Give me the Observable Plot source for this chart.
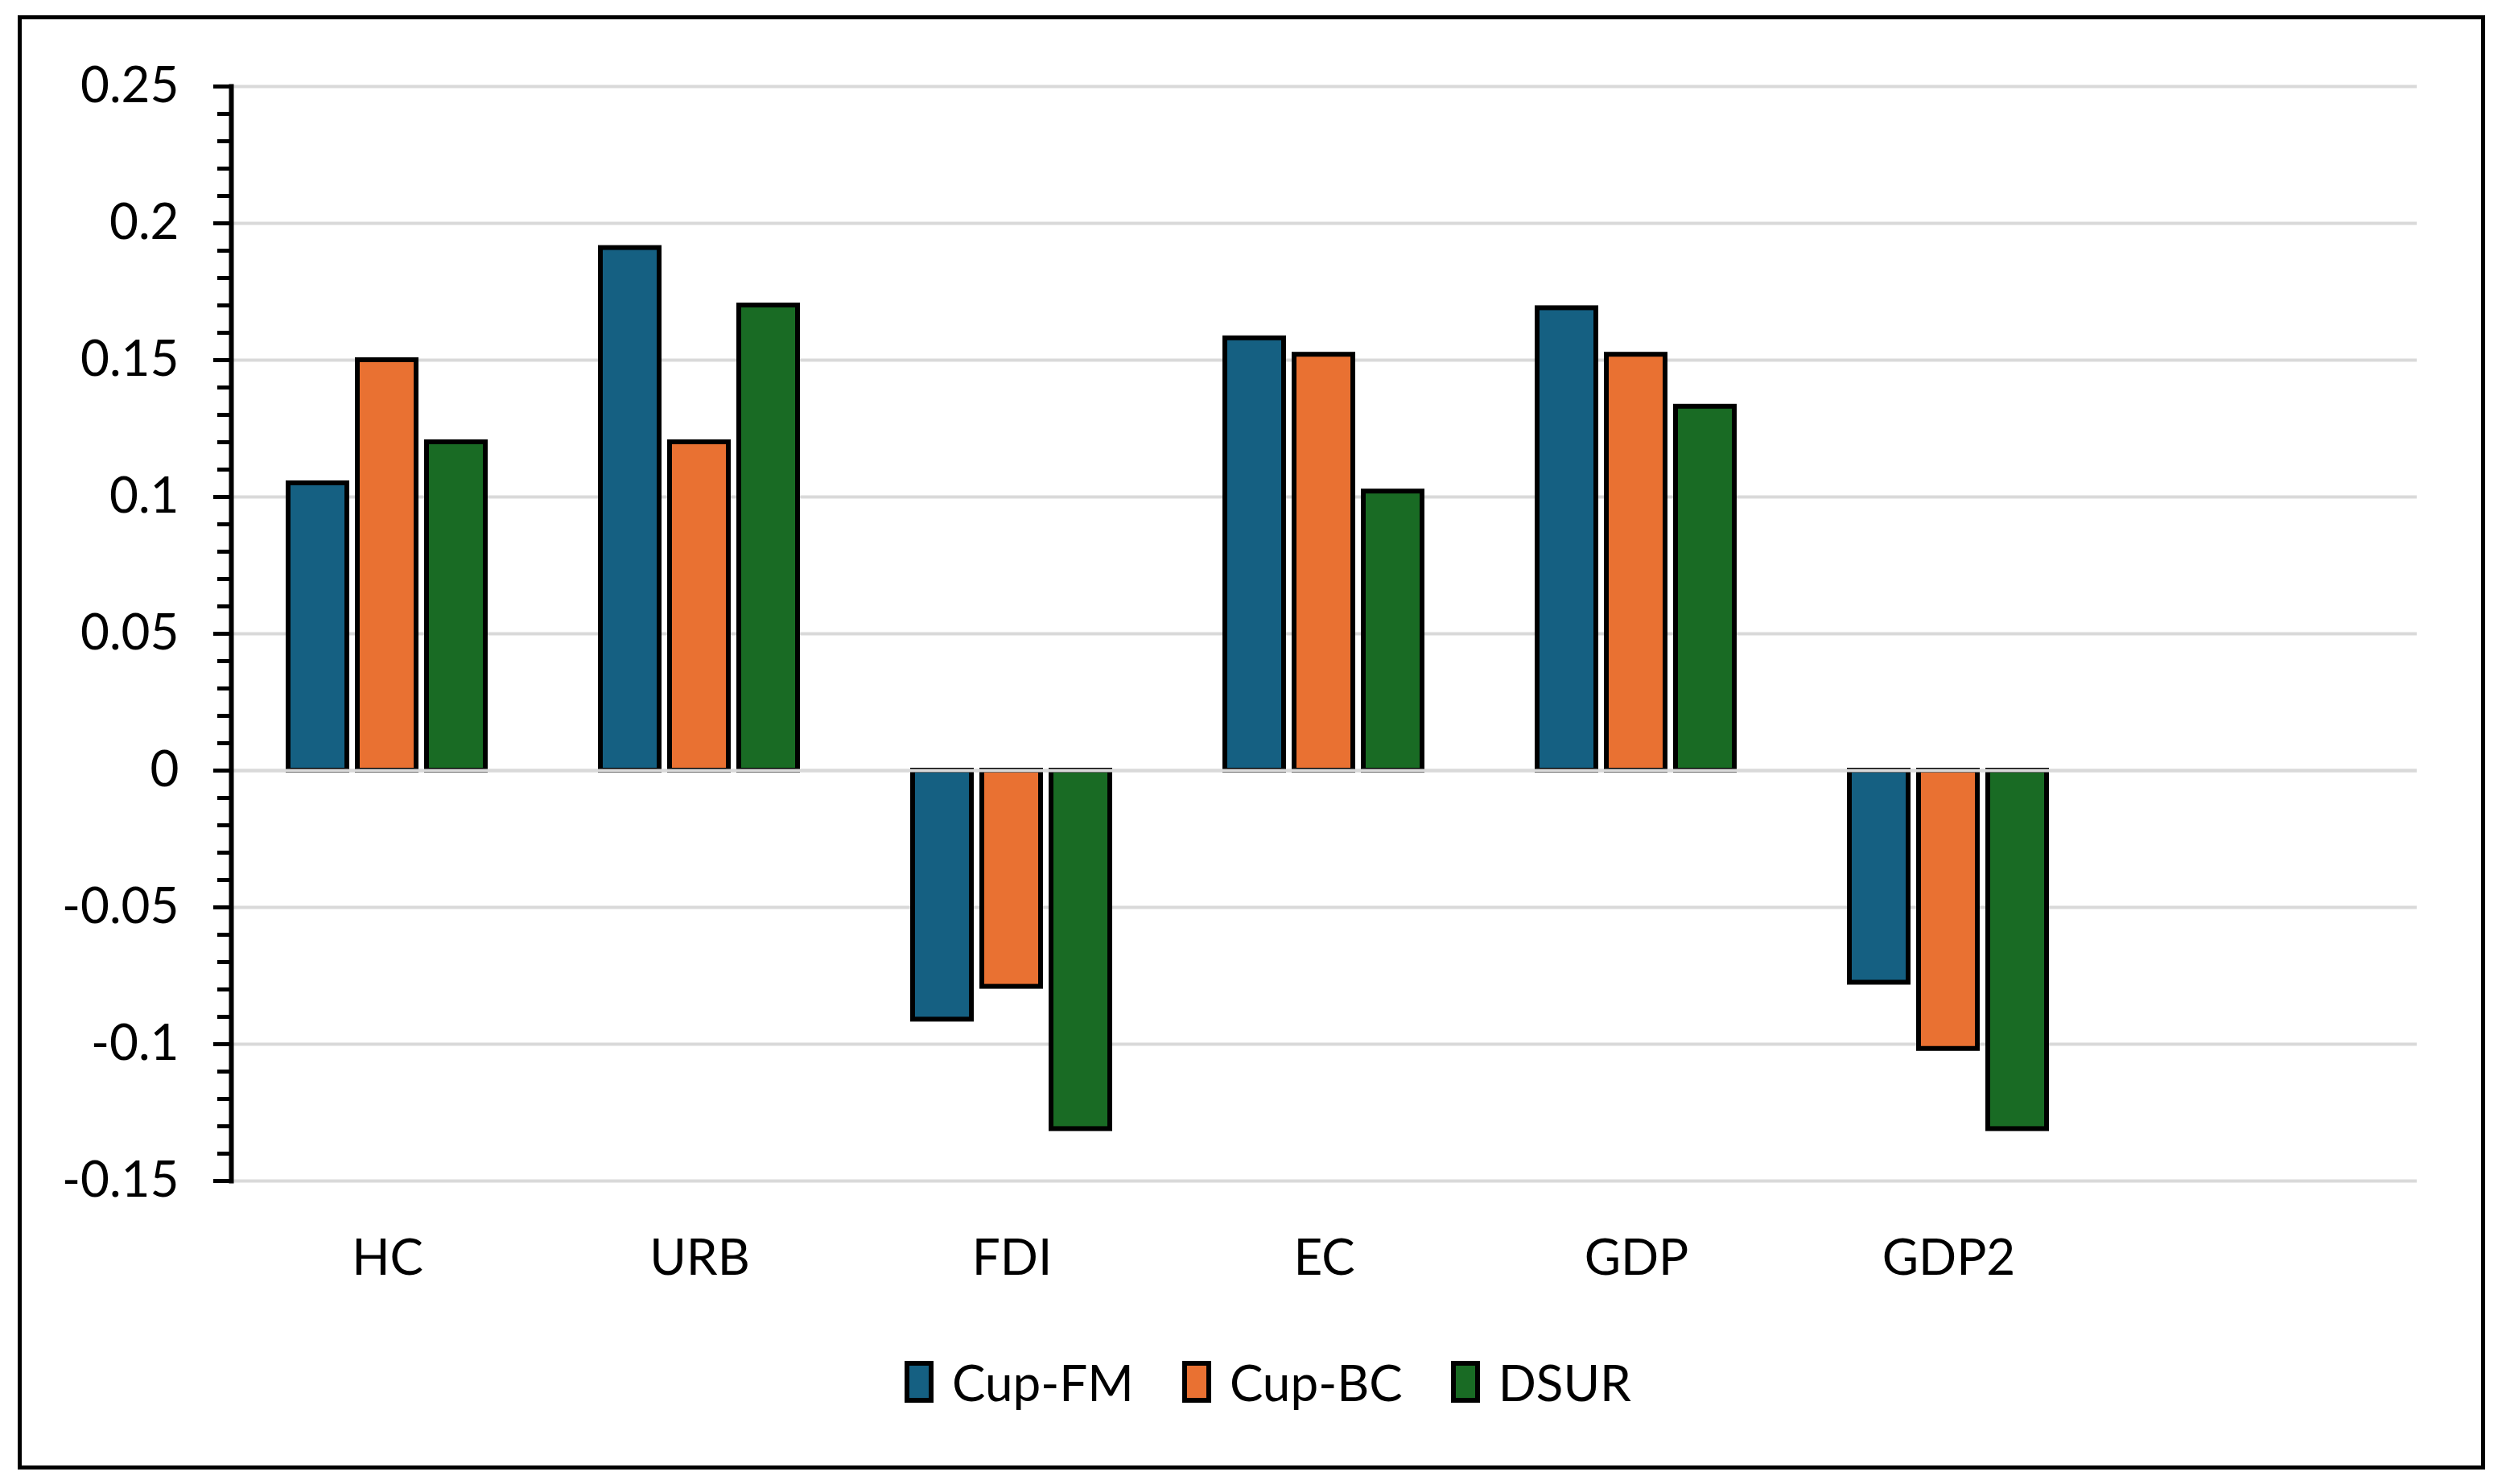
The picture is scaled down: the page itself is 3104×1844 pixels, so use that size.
<!DOCTYPE html>
<html><head><meta charset="utf-8">
<script src="https://cdn.jsdelivr.net/npm/d3@7"></script>
<script src="https://cdn.jsdelivr.net/npm/@observablehq/plot@0.6"></script>
<style>
html,body{margin:0;padding:0;background:#fff;}
body{width:3104px;height:1844px;position:relative;overflow:hidden;font-family:Lato,sans-serif;}
#chart{position:absolute;left:0;top:0;}
#legend{position:absolute;left:1127px;top:1680px;}
#border{position:absolute;left:22px;top:19px;width:3066px;height:1807px;box-sizing:border-box;border:5px solid #000;pointer-events:none;}
.lg{min-height:60px !important;height:60px;align-items:center !important;margin:0 !important;}
.lg-swatch{margin-right:63px !important;display:inline-flex;align-items:center;}
.lg-swatch > svg{margin-right:26px !important;overflow:visible;}
.lg-swatch rect{stroke:#000;stroke-width:6px;}
</style></head><body>
<div id="chart"></div><div id="legend"></div><div id="border"></div>
<script>
// ---- data ----
const categories = ["HC", "URB", "FDI", "EC", "GDP", "GDP2", ""];
const series = ["Cup-FM", "Cup-BC", "DSUR"];
const cupFM = [0.105, 0.191, -0.091, 0.158, 0.169, -0.0775, null];
const cupBC = [0.150, 0.120, -0.079, 0.152, 0.152, -0.1017, null];
const dsur  = [0.120, 0.170, -0.131, 0.102, 0.133, -0.131, null];
const colors = ["#156082", "#E97132", "#196B24"];
const yTicks = [-0.15, -0.1, -0.05, 0, 0.05, 0.1, 0.15, 0.2, 0.25];
const yTickLabels = ["-0.15", "-0.1", "-0.05", "0", "0.05", "0.1", "0.15", "0.2", "0.25"];
const minorTicks = d3.range(-15, 26).map(i => i / 100);

const seriesValues = [cupFM, cupBC, dsur];
const data = [];
categories.forEach((c, i) => {
  seriesValues.forEach((arr, j) => data.push({category: c, series: series[j], value: arr[i]}));
});

const chart = Plot.plot({
  width: 3104,
  height: 1650,
  marginLeft: 287,
  marginRight: 101,
  marginTop: 107,
  marginBottom: 183,
  style: {fontFamily: "Lato, sans-serif", fontSize: "62px", color: "#000", background: "transparent", overflow: "visible"},
  fx: {domain: categories, padding: 0, label: null},
  x: {domain: series, paddingInner: 0.151, paddingOuter: 0.831, axis: null},
  y: {domain: [-0.15, 0.25], label: null},
  color: {domain: series, range: colors},
  marks: [
    Plot.gridY(yTicks, {stroke: "#d9d9d9", strokeOpacity: 1, strokeWidth: 4}),
    Plot.barY(data, {fx: "category", x: "series", y: "value", fill: "series", stroke: "#000", strokeWidth: 6}),
    Plot.ruleY([0], {stroke: "#d9d9d9", strokeWidth: 4}),
    Plot.axisY(minorTicks, {tickSize: 17, tickFormat: () => "", stroke: "#000", strokeWidth: 5, strokeOpacity: 1, label: null}),
    Plot.axisY(yTicks, {tickSize: 22, tickPadding: 43, tickFormat: d => yTickLabels[yTicks.indexOf(d)], stroke: "#000", strokeWidth: 5, strokeOpacity: 1, fontSize: 62, fill: "#000", label: null}),
    Plot.frame({anchor: "left", facetAnchor: "left", stroke: "#000", strokeWidth: 6}),
    Plot.axisFx({anchor: "bottom", tickSize: 0, tickPadding: 72, fontSize: 62, fill: "#000", label: null})
  ]
});
document.getElementById("chart").appendChild(chart);

const legend = Plot.legend({
  color: {domain: series, range: colors},
  legend: "swatches",
  swatchWidth: 30,
  swatchHeight: 46,
  className: "lg",
  style: {fontFamily: "Lato, sans-serif", fontSize: "62px", color: "#000"}
});
document.getElementById("legend").appendChild(legend);
</script>
</body></html>
